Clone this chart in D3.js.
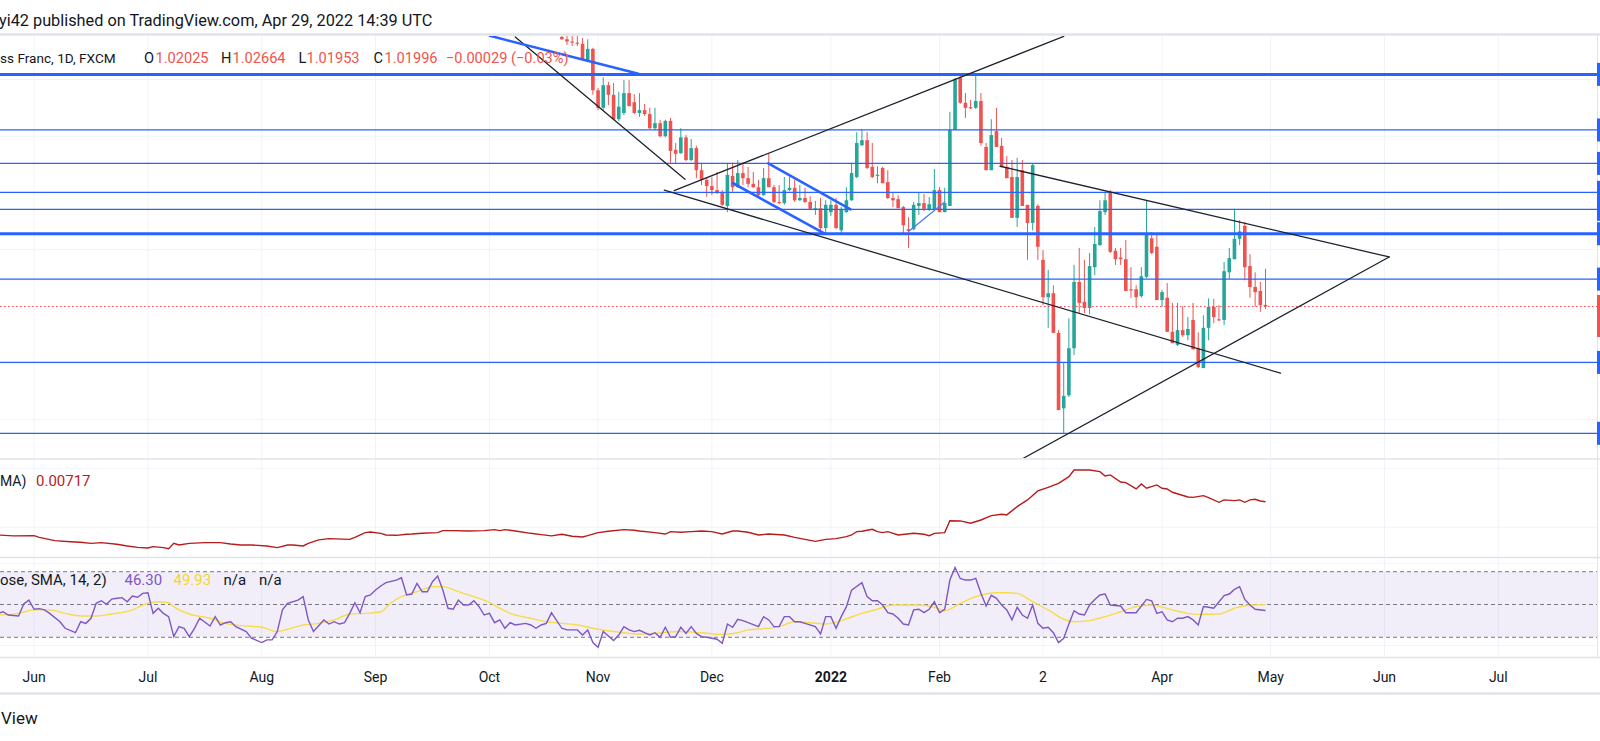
<!DOCTYPE html>
<html>
<head>
<meta charset="utf-8">
<title>EUR/CHF 1D</title>
<script src="https://cdn.jsdelivr.net/npm/d3@7"></script>
<style>
  html, body { margin: 0; padding: 0; background: #ffffff; }
  svg { display: block; font-family: Roboto, "Noto Sans", sans-serif; }
</style>
</head>
<body>
<svg id="chart" width="1600" height="741"></svg>
<script>
// ---- values ----
const lastDay = "2022-04-29";
const firstCandleDay = "2021-10-21";   // first candle still visible at the top of the pane

const opens = [
  1.0675, 1.0671, 1.0667, 1.0665, 1.0663, 1.0634, 1.0654, 1.0581, 1.0550, 1.0590,
  1.0573, 1.0530, 1.0541, 1.0576, 1.0560, 1.0541, 1.0546, 1.0539, 1.0514, 1.0523,
  1.0500, 1.0527, 1.0476, 1.0470, 1.0498, 1.0458, 1.0479, 1.0440, 1.0423, 1.0412,
  1.0405, 1.0400, 1.0377, 1.0430, 1.0410, 1.0435, 1.0426, 1.0416, 1.0410, 1.0396,
  1.0426, 1.0410, 1.0384, 1.0382, 1.0405, 1.0409, 1.0387, 1.0391, 1.0384, 1.0372,
  1.0373, 1.0338, 1.0366, 1.0379, 1.0334, 1.0366, 1.0387, 1.0428, 1.0484, 1.0493,
  1.0446, 1.0430, 1.0444, 1.0419, 1.0391, 1.0389, 1.0375, 1.0336, 1.0336, 1.0377,
  1.0382, 1.0370, 1.0370, 1.0405, 1.0366, 1.0377, 1.0511, 1.0603, 1.0559, 1.0551,
  1.0550, 1.0562, 1.0481, 1.0440, 1.0509, 1.0483, 1.0446, 1.0428, 1.0356, 1.0440,
  1.0379, 1.0347, 1.0377, 1.0282, 1.0216, 1.0223, 1.0153, 1.0020, 1.0043, 1.0126,
  1.0243, 1.0208, 1.0197, 1.0269, 1.0308, 1.0366, 1.0400, 1.0298, 1.0286, 1.0283,
  1.0230, 1.0230, 1.0218, 1.0252, 1.0320, 1.0305, 1.0211, 1.0215, 1.0155, 1.0132,
  1.0158, 1.0149, 1.0176, 1.0126, 1.0091, 1.0162, 1.0199, 1.0177, 1.0176, 1.0260,
  1.0283, 1.0319, 1.0342, 1.0271, 1.0234, 1.0227, 1.02025
];
const highs = [
  1.0678, 1.0677, 1.0677, 1.0677, 1.0673, 1.0671, 1.0656, 1.0585, 1.0604, 1.0596,
  1.0594, 1.0578, 1.0599, 1.0599, 1.0574, 1.0576, 1.0557, 1.0550, 1.0550, 1.0529,
  1.0529, 1.0532, 1.0488, 1.0514, 1.0502, 1.0495, 1.0483, 1.0453, 1.0428, 1.0428,
  1.0437, 1.0405, 1.0453, 1.0453, 1.0458, 1.0454, 1.0446, 1.0437, 1.0423, 1.0444,
  1.0470, 1.0414, 1.0414, 1.0428, 1.0428, 1.0423, 1.0414, 1.0409, 1.0394, 1.0386,
  1.0391, 1.0387, 1.0387, 1.0391, 1.0375, 1.0410, 1.0453, 1.0507, 1.0513, 1.0507,
  1.0488, 1.0447, 1.0446, 1.0440, 1.0400, 1.0396, 1.0377, 1.0357, 1.0384, 1.0400,
  1.0398, 1.0393, 1.0442, 1.0410, 1.0409, 1.0543, 1.0603, 1.0608, 1.0576, 1.0564,
  1.0611, 1.0576, 1.0488, 1.0530, 1.0550, 1.0497, 1.0465, 1.0458, 1.0462, 1.0458,
  1.0379, 1.0452, 1.0380, 1.0299, 1.0264, 1.0237, 1.0158, 1.0100, 1.0179, 1.0273,
  1.0303, 1.0282, 1.0294, 1.0340, 1.0387, 1.0402, 1.0405, 1.0303, 1.0303, 1.0317,
  1.0269, 1.0237, 1.0269, 1.0387, 1.0331, 1.0326, 1.0229, 1.0241, 1.0206, 1.0206,
  1.0200, 1.0181, 1.0206, 1.0154, 1.0184, 1.0214, 1.0213, 1.0202, 1.0278, 1.0303,
  1.0372, 1.0352, 1.0349, 1.0292, 1.0260, 1.0243, 1.02664
];
const lows = [
  1.0670, 1.0661, 1.0659, 1.0659, 1.0634, 1.0633, 1.0573, 1.0546, 1.0546, 1.0555,
  1.0529, 1.0527, 1.0537, 1.0553, 1.0539, 1.0534, 1.0536, 1.0513, 1.0511, 1.0498,
  1.0498, 1.0453, 1.0453, 1.0469, 1.0456, 1.0456, 1.0426, 1.0414, 1.0393, 1.0396,
  1.0398, 1.0377, 1.0366, 1.0402, 1.0409, 1.0414, 1.0410, 1.0409, 1.0393, 1.0395,
  1.0410, 1.0382, 1.0380, 1.0379, 1.0403, 1.0384, 1.0386, 1.0382, 1.0370, 1.0361,
  1.0331, 1.0329, 1.0359, 1.0336, 1.0327, 1.0365, 1.0386, 1.0426, 1.0483, 1.0442,
  1.0426, 1.0417, 1.0417, 1.0389, 1.0375, 1.0373, 1.0329, 1.0303, 1.0334, 1.0361,
  1.0368, 1.0368, 1.0370, 1.0366, 1.0366, 1.0377, 1.0511, 1.0557, 1.0532, 1.0548,
  1.0548, 1.0483, 1.0440, 1.0440, 1.0481, 1.0446, 1.0426, 1.0356, 1.0340, 1.0377,
  1.0282, 1.0334, 1.0282, 1.0202, 1.0162, 1.0153, 1.0017, 0.9976, 1.0040, 1.0114,
  1.0188, 1.0188, 1.0186, 1.0255, 1.0306, 1.0361, 1.0294, 1.0273, 1.0273, 1.0227,
  1.0215, 1.0197, 1.0215, 1.0250, 1.0292, 1.0211, 1.0199, 1.0155, 1.0135, 1.0130,
  1.0146, 1.0140, 1.0124, 1.0091, 1.0091, 1.0140, 1.0170, 1.0174, 1.0167, 1.0248,
  1.0283, 1.0308, 1.0246, 1.0215, 1.0199, 1.0190, 1.01953
];
const closes = [
  1.0671, 1.0667, 1.0665, 1.0663, 1.0634, 1.0654, 1.0581, 1.0550, 1.0590, 1.0573,
  1.0530, 1.0552, 1.0576, 1.0553, 1.0541, 1.0546, 1.0539, 1.0514, 1.0523, 1.0500,
  1.0527, 1.0474, 1.0469, 1.0498, 1.0458, 1.0479, 1.0440, 1.0423, 1.0412, 1.0405,
  1.0400, 1.0379, 1.0432, 1.0410, 1.0435, 1.0426, 1.0416, 1.0410, 1.0396, 1.0426,
  1.0410, 1.0384, 1.0382, 1.0405, 1.0409, 1.0387, 1.0391, 1.0384, 1.0372, 1.0373,
  1.0338, 1.0379, 1.0379, 1.0338, 1.0370, 1.0387, 1.0435, 1.0488, 1.0493, 1.0444,
  1.0428, 1.0432, 1.0417, 1.0391, 1.0387, 1.0373, 1.0343, 1.0333, 1.0379, 1.0382,
  1.0372, 1.0380, 1.0405, 1.0366, 1.0382, 1.0511, 1.0601, 1.0559, 1.0550, 1.0549,
  1.0562, 1.0488, 1.0440, 1.0502, 1.0481, 1.0446, 1.0426, 1.0356, 1.0428, 1.0377,
  1.0347, 1.0449, 1.0305, 1.0216, 1.0223, 1.0153, 1.0017, 1.0042, 1.0126, 1.0243,
  1.0206, 1.0197, 1.0271, 1.0310, 1.0368, 1.0387, 1.0296, 1.0283, 1.0283, 1.0227,
  1.0228, 1.0216, 1.0253, 1.0329, 1.0294, 1.0211, 1.0225, 1.0155, 1.0135, 1.0158,
  1.0149, 1.0160, 1.0124, 1.0093, 1.0162, 1.0199, 1.0181, 1.0176, 1.0262, 1.0285,
  1.0319, 1.0332, 1.0269, 1.0234, 1.0225, 1.0202, 1.01996
];

// horizontal levels drawn on the chart
const levelPrices = [1.0609, 1.0511, 1.0452, 1.0401, 1.0371, 1.0328, 1.0248, 1.0101, 0.9976];
const heavyLevels = [1.0609, 1.0328];
const lastPrice = 1.01996;

// trend lines: [bars before Apr 29, price, bars before Apr 29, price]
const blackLines = [
  [145.0, 1.0675, 112.2, 1.0424],
  [114.3, 1.0404, 39.0, 1.0676],
  [116.2, 1.0405, -2.9, 1.0082],
  [51.3, 1.0447, -23.9, 1.0287],
  [46.8, 0.9932, -23.9, 1.0287]
];
const blueLines = [
  [149.9, 1.0677, 121.2, 1.0610],
  [96.1, 1.0452, 80.2, 1.0371],
  [102.9, 1.0417, 85.2, 1.0328]
];
const thinBlueLines = [
  [69.0, 1.0332, 62.0, 1.0384]
];

const tickDays = ["2021-06-01", "2021-07-01", "2021-08-02", "2021-09-01", "2021-10-01", "2021-11-01",
  "2021-12-01", "2022-01-03", "2022-02-01", "2022-03-01", "2022-04-01", "2022-05-02",
  "2022-06-01", "2022-07-01"];
const tickLabels = ["Jun", "Jul", "Aug", "Sep", "Oct", "Nov", "Dec", "2022", "Feb", "2", "Apr", "May", "Jun", "Jul"];

// ATR pane (bars before Apr 29, value)
const atrBack = [245, 242, 238, 237, 234, 231, 229, 227, 225, 222, 220, 218, 216, 215, 213, 212, 211, 210,
  208, 205, 202, 200, 198, 196, 193, 191, 189, 188, 186, 185, 183, 181, 177, 176, 174, 173, 171, 170,
  168, 166, 165, 163, 160, 159, 157, 154, 151, 149, 148, 147, 145, 142, 140, 138, 136, 134, 132, 131,
  129, 127, 124, 122, 121, 118, 116, 115, 113, 111, 109, 107, 105, 103, 102, 100, 98, 96, 93, 91, 89,
  87, 85, 83, 81, 80, 79, 78, 76, 75, 74, 73, 71, 68, 66, 65, 64, 62, 61, 59, 57, 55, 53, 51, 50, 48,
  46, 44, 42, 40, 38, 37, 34, 32, 31, 30, 28, 27, 25, 24, 23, 21, 20, 19, 18, 15, 14, 12, 11, 9, 8, 6,
  5, 4, 3, 2, 1, 0];
const atrValues = [0.00435, 0.00427, 0.00429, 0.00415, 0.00387, 0.00378, 0.00373, 0.00364, 0.00370,
  0.00356, 0.00342, 0.00330, 0.00325, 0.00336, 0.00328, 0.00319, 0.00364, 0.00350, 0.00364, 0.00370,
  0.00370, 0.00359, 0.00350, 0.00350, 0.00342, 0.00328, 0.00350, 0.00350, 0.00342, 0.00364, 0.00393,
  0.00404, 0.00398, 0.00415, 0.00455, 0.00460, 0.00449, 0.00435, 0.00432, 0.00441, 0.00443, 0.00449,
  0.00455, 0.00472, 0.00472, 0.00469, 0.00472, 0.00480, 0.00472, 0.00480, 0.00469, 0.00449, 0.00438,
  0.00427, 0.00441, 0.00424, 0.00418, 0.00429, 0.00455, 0.00466, 0.00480, 0.00475, 0.00469, 0.00455,
  0.00443, 0.00463, 0.00458, 0.00463, 0.00469, 0.00463, 0.00443, 0.00469, 0.00469, 0.00458, 0.00435,
  0.00443, 0.00435, 0.00415, 0.00398, 0.00381, 0.00398, 0.00404, 0.00421, 0.00435, 0.00463, 0.00466,
  0.00483, 0.00463, 0.00455, 0.00463, 0.00435, 0.00449, 0.00441, 0.00429, 0.00449, 0.00455, 0.00556,
  0.00554, 0.00534, 0.00562, 0.00599, 0.00610, 0.00605, 0.00675, 0.00732, 0.00808, 0.00839, 0.00873,
  0.00929, 0.00986, 0.00986, 0.00972, 0.00935, 0.00944, 0.00884, 0.00879, 0.00825, 0.00867, 0.00831,
  0.00859, 0.00831, 0.00825, 0.00797, 0.00757, 0.00754, 0.00768, 0.00751, 0.00712, 0.00732, 0.00726,
  0.00732, 0.00712, 0.00732, 0.00737, 0.00723, 0.00717];

// RSI pane
const rsiBack = [245, 244, 243, 241, 240, 239, 238, 237, 236, 235, 233, 232, 230, 229, 228, 227, 226, 225,
  224, 223, 222, 221, 220, 219, 218, 217, 216, 215, 214, 213, 212, 211, 210, 209, 208, 207, 206, 204,
  203, 202, 201, 200, 199, 197, 196, 194, 193, 192, 191, 190, 189, 187, 186, 185, 184, 182, 181, 180,
  179, 178, 177, 176, 175, 174, 173, 172, 171, 170, 168, 167, 166, 165, 164, 163, 162, 161, 160, 159,
  158, 157, 156, 155, 154, 153, 152, 151, 150, 149, 148, 147, 146, 145, 143, 142, 141, 140, 139, 138,
  137, 136, 135, 133, 132, 131, 130, 129, 128, 127, 126, 125, 124, 123, 122, 121, 120, 119, 118, 117,
  116, 115, 114, 113, 112, 111, 110, 109, 108, 106, 105, 104, 103, 102, 101, 100, 98, 97, 96, 95, 94,
  93, 92, 91, 90, 89, 87, 86, 85, 84, 83, 82, 81, 80, 78, 77, 76, 75, 74, 73, 72, 71, 70, 69, 68, 67,
  66, 65, 64, 63, 62, 61, 60, 59, 58, 57, 56, 55, 54, 53, 52, 51, 50, 49, 48, 47, 46, 45, 44, 43, 42,
  41, 40, 39, 38, 37, 36, 35, 34, 33, 32, 31, 30, 28, 27, 26, 25, 23, 22, 21, 20, 19, 18, 17, 16, 15,
  14, 13, 12, 11, 10, 8, 7, 6, 5, 4, 3, 2, 0];
const rsiValues = [44.6, 45.6, 43.6, 43.0, 50.3, 52.7, 47.1, 47.5, 46.7, 44.6, 39.5, 35.5, 32.8, 39.5,
  38.5, 41.6, 50.7, 52.3, 50.1, 53.3, 53.8, 54.2, 51.7, 55.2, 54.4, 56.8, 57.2, 44.6, 47.7, 44.6, 42.6,
  30.4, 36.5, 35.5, 30.4, 35.5, 41.6, 36.9, 42.6, 37.5, 38.9, 39.5, 36.5, 33.5, 29.5, 26.8, 28.4, 28.4,
  33.5, 46.7, 50.7, 52.7, 54.8, 40.6, 33.5, 40.6, 38.1, 39.5, 38.1, 38.9, 44.6, 51.1, 45.0, 54.8, 55.8,
  58.8, 61.3, 63.3, 64.9, 66.3, 55.8, 56.4, 62.9, 57.8, 57.8, 63.9, 67.4, 58.8, 47.7, 47.1, 52.7, 49.7,
  49.7, 52.3, 48.7, 43.6, 44.6, 38.9, 40.6, 35.5, 38.9, 37.5, 38.5, 37.5, 35.5, 37.5, 38.5, 45.0, 40.2,
  35.5, 34.5, 34.5, 31.4, 34.5, 26.8, 23.9, 33.5, 30.8, 28.0, 31.4, 36.5, 34.5, 33.5, 34.3, 32.8, 31.4,
  32.8, 30.0, 36.1, 30.0, 30.4, 36.1, 32.4, 36.5, 32.4, 30.4, 30.0, 28.8, 26.3, 38.1, 36.1, 41.0, 40.2,
  38.9, 36.5, 42.6, 40.6, 36.5, 36.5, 42.6, 42.6, 39.5, 39.5, 38.5, 36.5, 32.0, 42.6, 42.6, 35.5, 42.6,
  48.7, 58.8, 63.3, 54.8, 52.3, 52.3, 49.7, 45.0, 44.2, 41.6, 38.1, 37.5, 46.7, 47.1, 45.0, 47.1, 51.7,
  45.0, 47.1, 64.9, 72.6, 65.9, 64.9, 64.9, 65.9, 56.8, 49.1, 55.6, 53.8, 49.7, 46.7, 40.6, 48.3, 43.6,
  41.6, 49.7, 38.5, 35.5, 36.1, 32.8, 26.8, 29.4, 38.1, 46.2, 44.2, 43.6, 49.7, 53.1, 55.8, 56.4, 49.7,
  49.1, 45.0, 45.0, 45.0, 53.1, 52.3, 44.6, 45.6, 40.6, 39.5, 41.6, 41.6, 42.6, 40.6, 37.5, 48.7, 48.3,
  47.7, 55.4, 56.4, 59.2, 60.9, 53.1, 49.7, 47.1, 46.3];
const rsiMaBack = [245, 241, 238, 235, 232, 229, 226, 223, 219, 217, 214, 212, 211, 208, 204, 201, 198,
  194, 191, 189, 186, 183, 180, 177, 174, 171, 169, 167, 164, 161, 159, 156, 153, 150, 148, 146, 142,
  139, 136, 133, 129, 126, 123, 121, 118, 113, 109, 105, 102, 100, 96, 94, 91, 88, 85, 82, 78, 75, 72,
  67, 64, 62, 59, 55, 52, 50, 48, 45, 42, 39, 37, 34, 31, 28, 25, 22, 18, 15, 13, 9, 6, 3, 0];
const rsiMaValues = [43.6, 44.6, 46.7, 46.7, 44.6, 43.0, 43.0, 44.2, 46.7, 49.7, 51.7, 51.1, 48.7, 44.2,
  41.6, 38.5, 37.1, 36.1, 33.5, 34.9, 37.5, 38.5, 40.6, 44.2, 44.6, 45.6, 51.1, 54.8, 57.8, 60.9, 60.9,
  57.8, 54.8, 51.3, 47.7, 44.6, 41.6, 39.5, 38.5, 37.5, 34.9, 33.5, 32.4, 32.0, 32.4, 33.5, 32.8, 31.8,
  32.8, 34.5, 35.5, 36.5, 39.5, 38.9, 38.1, 40.2, 44.6, 47.1, 49.7, 49.7, 48.3, 46.2, 50.7, 55.8, 57.2,
  57.2, 56.8, 51.7, 46.7, 41.0, 39.5, 40.2, 42.6, 45.6, 48.7, 49.7, 46.7, 44.6, 44.0, 44.2, 47.7, 49.7,
  49.93];

// ---- layout ----
const svg = d3.select("#chart");
const paneRight = 1597;
const mainTop = 36, mainBottom = 458;
const atrTop = 460, atrBottom = 556.5;
const rsiTop = 558.5, rsiBottom = 656.5;
const barStep = 5.174, lastX = 1265.5;

const UP = "#26a69a", DOWN = "#ef5350", BLUE = "#2962ff", GRID = "#f0f3fa", SEP = "#e0e3eb", INK = "#131722";

// weekdays between a date and Apr 29 2022 (negative = earlier)
function dayOffset(s) {
  const a = new Date(s + "T00:00:00Z"), b = new Date(lastDay + "T00:00:00Z");
  const sign = a < b ? -1 : 1;
  const d = new Date(Math.min(a, b)), end = new Date(Math.max(a, b));
  let n = 0;
  while (d < end) {
    d.setUTCDate(d.getUTCDate() + 1);
    const w = d.getUTCDay();
    if (w !== 0 && w !== 6) n++;
  }
  return sign * n;
}

const x = d3.scaleLinear().domain([-136, 0]).range([lastX - 136 * barStep, lastX]);
const yMain = d3.scaleLinear().domain([1.00, 1.06]).range([419.7, 79.5]);
const yAtr = d3.scaleLinear().domain([0.005, 0.010]).range([527.3, 468.3]);
const yRsi = d3.scaleLinear().domain([30, 70]).range([637.3, 571.7]);

const defs = svg.append("defs");
function clip(id, y0, y1) {
  defs.append("clipPath").attr("id", id)
    .append("rect").attr("x", 0).attr("y", y0).attr("width", paneRight).attr("height", y1 - y0);
  return "url(#" + id + ")";
}
const clipMain = clip("cMain", mainTop, mainBottom);
const clipAtr = clip("cAtr", atrTop, atrBottom);
const clipRsi = clip("cRsi", rsiTop, rsiBottom);

// ---- grid ----
const grid = svg.append("g").attr("stroke", GRID).attr("stroke-width", 1);
const tickT = tickDays.map(dayOffset);
[[mainTop, mainBottom], [atrTop, atrBottom], [rsiTop, rsiBottom]].forEach(([a, b]) => {
  grid.selectAll(null).data(tickT).enter().append("line")
    .attr("x1", d => x(d)).attr("x2", d => x(d)).attr("y1", a).attr("y2", b);
});
grid.selectAll(null).data(d3.range(1.00, 1.0601, 0.01)).enter().append("line")
  .attr("x1", 0).attr("x2", paneRight).attr("y1", d => yMain(d)).attr("y2", d => yMain(d));
grid.selectAll(null).data([0.005, 0.010]).enter().append("line")
  .attr("x1", 0).attr("x2", paneRight).attr("y1", d => yAtr(d)).attr("y2", d => yAtr(d));
grid.selectAll(null).data([25, 75]).enter().append("line")
  .attr("x1", 0).attr("x2", paneRight).attr("y1", d => yRsi(d)).attr("y2", d => yRsi(d));

// ---- main pane ----
const main = svg.append("g").attr("clip-path", clipMain);
const t0 = dayOffset(firstCandleDay);
const candles = opens.map((o, i) => ({ t: t0 + i, o, h: highs[i], l: lows[i], c: closes[i] }));

main.append("g").selectAll("line").data(candles).enter().append("line")
  .attr("x1", d => x(d.t)).attr("x2", d => x(d.t))
  .attr("y1", d => yMain(d.h)).attr("y2", d => yMain(d.l))
  .attr("stroke", d => d.c >= d.o ? UP : DOWN).attr("stroke-width", 1);
main.append("g").selectAll("rect").data(candles).enter().append("rect")
  .attr("x", d => x(d.t) - 1.8).attr("width", 3.6)
  .attr("y", d => yMain(Math.max(d.o, d.c)))
  .attr("height", d => Math.max(1, Math.abs(yMain(d.o) - yMain(d.c))))
  .attr("fill", d => d.c >= d.o ? UP : DOWN);

// current price
main.append("line").attr("x1", 0).attr("x2", paneRight)
  .attr("y1", yMain(lastPrice)).attr("y2", yMain(lastPrice))
  .attr("stroke", DOWN).attr("stroke-width", 1).attr("stroke-dasharray", "1.5,2.5");

// levels
main.append("g").selectAll("line").data(levelPrices).enter().append("line")
  .attr("x1", 0).attr("x2", paneRight).attr("y1", d => yMain(d)).attr("y2", d => yMain(d))
  .attr("stroke", BLUE).attr("stroke-width", d => heavyLevels.includes(d) ? 3 : 1.2);

function segs(g, data, color, width) {
  g.selectAll(null).data(data).enter().append("line")
    .attr("x1", d => x(-d[0])).attr("y1", d => yMain(d[1]))
    .attr("x2", d => x(-d[2])).attr("y2", d => yMain(d[3]))
    .attr("stroke", color).attr("stroke-width", width).attr("stroke-linecap", "round");
}
segs(main.append("g"), blackLines, "#1e222d", 1.3);
segs(main.append("g"), blueLines, BLUE, 2.6);
segs(main.append("g"), thinBlueLines, "#4f7dff", 1.4);

// ---- ATR pane ----
const atr = svg.append("g").attr("clip-path", clipAtr);
atr.append("path")
  .datum(atrBack.map((k, i) => [-k, atrValues[i]]))
  .attr("fill", "none").attr("stroke", "#b71c1c").attr("stroke-width", 1.4)
  .attr("d", d3.line().x(d => x(d[0])).y(d => yAtr(d[1])));

// ---- RSI pane ----
const rsi = svg.append("g").attr("clip-path", clipRsi);
rsi.append("rect").attr("x", 0).attr("width", paneRight)
  .attr("y", yRsi(70)).attr("height", yRsi(30) - yRsi(70)).attr("fill", "#7e57c2").attr("fill-opacity", 0.1);
rsi.selectAll(null).data([70, 50, 30]).enter().append("line")
  .attr("x1", 0).attr("x2", paneRight).attr("y1", d => yRsi(d)).attr("y2", d => yRsi(d))
  .attr("stroke", "#787b86").attr("stroke-width", 1).attr("stroke-dasharray", "4,3");
rsi.append("path")
  .datum(rsiMaBack.map((k, i) => [-k, rsiMaValues[i]]))
  .attr("fill", "none").attr("stroke", "#f7dc4a").attr("stroke-width", 1.4)
  .attr("d", d3.line().curve(d3.curveMonotoneX).x(d => x(d[0])).y(d => yRsi(d[1])));
rsi.append("path")
  .datum(rsiBack.map((k, i) => [-k, rsiValues[i]]))
  .attr("fill", "none").attr("stroke", "#7e57c2").attr("stroke-width", 1.4)
  .attr("d", d3.line().x(d => x(d[0])).y(d => yRsi(d[1])));

// ---- separators and borders ----
const sep = svg.append("g").attr("stroke", SEP);
[[34.5, 2.5], [459, 1.5], [557.5, 1.5], [657.5, 1.5], [693.5, 2.5]].forEach(([y, w]) => {
  sep.append("line").attr("x1", 0).attr("x2", 1600).attr("y1", y).attr("y2", y).attr("stroke-width", w);
});
sep.append("line").attr("x1", paneRight + 0.5).attr("x2", paneRight + 0.5)
  .attr("y1", 36).attr("y2", 657).attr("stroke-width", 1);

// price-scale tags peeking in at the right edge
svg.append("g").selectAll("rect").data(levelPrices).enter().append("rect")
  .attr("x", paneRight).attr("width", 4).attr("y", d => yMain(d) - 11.5).attr("height", 23)
  .attr("fill", BLUE);
svg.append("rect").attr("x", paneRight).attr("width", 4)
  .attr("y", yMain(lastPrice) - 11.5).attr("height", 42).attr("fill", DOWN);

// ---- time axis ----
svg.append("g").selectAll("text").data(tickT).enter().append("text")
  .attr("x", d => x(d)).attr("y", 682).attr("text-anchor", "middle")
  .attr("font-size", 14).attr("fill", INK)
  .attr("font-weight", (d, i) => tickLabels[i] === "2022" ? "bold" : null)
  .text((d, i) => tickLabels[i]);

// ---- texts ----
svg.append("text").attr("x", -1).attr("y", 26).attr("font-size", 16.3).attr("fill", INK)
  .text("yi42 published on TradingView.com, Apr 29, 2022 14:39 UTC");

const legend = svg.append("g").attr("font-size", 14.6);
legend.append("text").attr("x", 0).attr("y", 63).attr("fill", INK).attr("font-size", 13.6)
  .text("ss Franc, 1D, FXCM");
[
  ["O", 144, INK], ["1.02025", 155.5, DOWN],
  ["H", 221, INK], ["1.02664", 232.5, DOWN], ["L", 298.5, INK], ["1.01953", 306.5, DOWN],
  ["C", 373.5, INK], ["1.01996", 384.5, DOWN], ["\u22120.00029 (\u22120.03%)", 446, DOWN]
].forEach(([s, px, col]) => legend.append("text").attr("x", px).attr("y", 63).attr("fill", col).text(s));

const atrLegend = svg.append("g").attr("font-size", 15);
atrLegend.append("text").attr("x", 0).attr("y", 486).attr("fill", INK).attr("font-size", 14).text("MA)");
atrLegend.append("text").attr("x", 36).attr("y", 486).attr("fill", "#b71c1c").text("0.00717");

const rsiLegend = svg.append("g").attr("font-size", 15);
[
  ["ose, SMA, 14, 2)", 0, INK], ["46.30", 124.5, "#7e57c2"], ["49.93", 173.5, "#f2d630"],
  ["n/a", 223.5, INK], ["n/a", 259, INK]
].forEach(([s, px, col]) => rsiLegend.append("text").attr("x", px).attr("y", 585).attr("fill", col).text(s));

svg.append("text").attr("x", 1).attr("y", 724).attr("font-size", 17).attr("fill", INK).text("View");
</script>
</body>
</html>
